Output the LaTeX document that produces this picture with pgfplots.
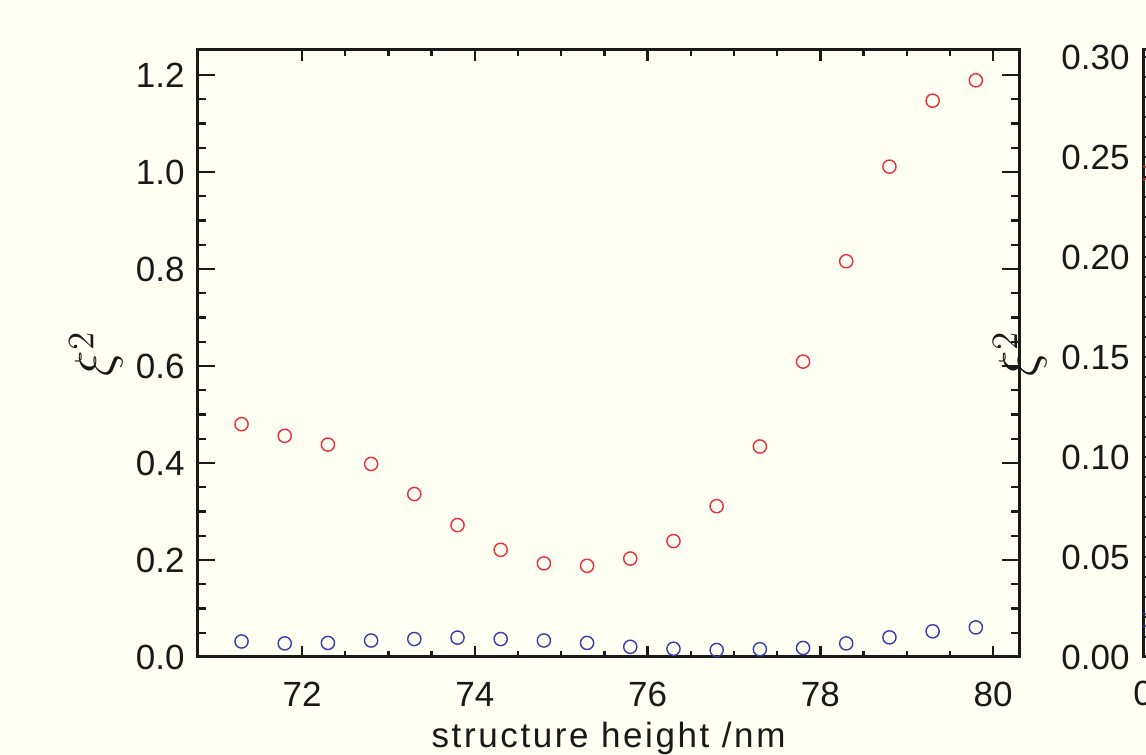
\documentclass[border=0pt]{standalone}
\usepackage{fontspec}
\setmainfont{Liberation Sans}
\usepackage{pgfplots}
\pgfplotsset{compat=1.18}
\definecolor{bg}{RGB}{255,254,242}
\definecolor{axcol}{RGB}{25,25,25}
\definecolor{redc}{RGB}{235,45,55}
\definecolor{bluec}{RGB}{55,60,170}
\newcommand{\lblfont}{\fontsize{17.5}{21}\selectfont}
\pgfplotsset{
  idl/.style={
    scale only axis,
    anchor=south west,
    width=410.5pt, height=303.5pt,
    axis line style={line width=1.5pt, color=axcol},
    tick style={line width=1.2pt, color=axcol},
    tick align=inside,
    major tick length=8.5pt,
    minor tick length=4pt,
    xtick style={/pgfplots/major tick length=5.5pt, /pgfplots/minor tick length=3pt},
    ticklabel style={font=\lblfont, color=axcol},
    /pgf/number format/assume math mode=true,
    xticklabel style={anchor=base, inner sep=0pt, yshift=-24.5pt},
    yticklabel style={anchor=east, inner sep=0pt, xshift=-6.5pt},
    label style={font=\lblfont, color=axcol},
    xlabel style={at={(axis description cs:0.5,-0.1483)}, anchor=base},
  }
}
\pgfplotstableread{
x     red    blue
71.3  0.480  0.032
71.8  0.456  0.028
72.3  0.438  0.029
72.8  0.398  0.034
73.3  0.336  0.037
73.8  0.272  0.040
74.3  0.221  0.037
74.8  0.193  0.034
75.3  0.188  0.029
75.8  0.203  0.021
76.3  0.239  0.017
76.8  0.311  0.0144
77.3  0.434  0.016
77.8  0.609  0.0186
78.3  0.816  0.028
78.8  1.011  0.0405
79.3  1.147  0.053
79.8  1.189  0.061
}\datatab
\begin{document}
\begin{tikzpicture}
\path[use as bounding box, fill=bg] (0pt,0pt) rectangle (573pt,377.5pt);
\clip (0pt,0pt) rectangle (573pt,377.5pt);
\begin{axis}[idl,
  at={(99pt,49pt)},
  xmin=70.796, xmax=80.30,
  ymin=0, ymax=1.2515,
  xtick={72,74,76,78,80},
  ytick={0,0.2,0.4,0.6,0.8,1.0,1.2},
  yticklabels={0.0,0.2,0.4,0.6,0.8,1.0,1.2},
  minor x tick num=3,
  minor y tick num=3,
  xlabel={\addfontfeature{LetterSpace=7.5}structure height /nm},
  ylabel={\scalebox{1.55}{$\xi^2$}},
  ylabel style={at={(axis description cs:-0.124,0.5)}, anchor=center},
]
\addplot[only marks, mark=o, mark size=3.3pt, color=redc, mark options={line width=0.7pt}] table[x=x, y=red] {\datatab};
\addplot[only marks, mark=o, mark size=3.3pt, color=bluec, mark options={line width=0.7pt}] table[x=x, y=blue] {\datatab};
\end{axis}
\begin{axis}[idl,
  at={(571.5pt,49pt)},
  clip marker paths=true,
  xmin=0, xmax=10,
  ymin=0, ymax=0.3035,
  xtick={0,2,4,6,8,10},
  ytick={0,0.05,0.10,0.15,0.20,0.25,0.30},
  yticklabels={0.00,0.05,0.10,0.15,0.20,0.25,0.30},
  minor x tick num=3,
  minor y tick num=4,
  ylabel={\scalebox{1.55}{$\xi^2$}},
  ylabel style={at={(axis description cs:-0.1498,0.5)}, anchor=center},
]
\addplot[only marks, mark=o, mark size=3.3pt, color=redc, mark options={line width=0.7pt}] coordinates {(0,0.242)};
\addplot[only marks, mark=o, mark size=3.3pt, color=bluec, mark options={line width=0.7pt}] coordinates {(0,0.0185)};
\end{axis}
\end{tikzpicture}
\end{document}
